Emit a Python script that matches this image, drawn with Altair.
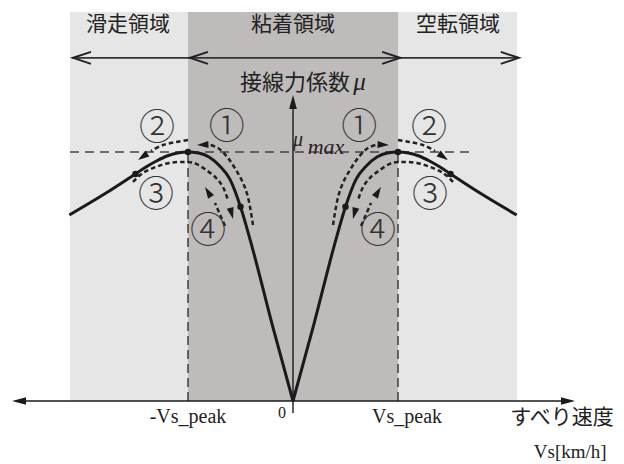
import math
import altair as alt
import pandas as pd

# Slip velocity normalised by Vs_peak, adhesion coefficient normalised by mu_max.
# Friction curve, right branch (the left branch is its mirror image).
curve_vs = [0.0, 0.2, 0.4, 0.5, 0.6, 0.7, 0.8, 0.9, 1.0, 1.1, 1.2, 1.3, 1.4, 1.5, 1.8, 2.13]
curve_mu = [0.0, 0.31, 0.635, 0.78, 0.89, 0.945, 0.98, 0.996, 1.0, 0.996, 0.984, 0.964, 0.94, 0.912, 0.83, 0.747]

# marked operating points on the curve
dot_vs = [0.5, 1.0, 1.5]
dot_mu = [0.78, 1.0, 0.912]

# transition paths (right side); each ends where its arrowhead begins
p1_vs = [0.381, 0.429, 0.476, 0.543, 0.619, 0.714, 0.80]
p1_mu = [0.707, 0.819, 0.876, 0.928, 0.976, 1.016, 1.030]
p2_vs = [1.0, 1.114, 1.238, 1.352]
p2_mu = [1.048, 1.040, 1.028, 1.004]
p3_vs = [1.524, 1.429, 1.305, 1.181, 1.048, 0.943, 0.829, 0.733, 0.667, 0.619]
p3_mu = [0.880, 0.916, 0.940, 0.956, 0.960, 0.956, 0.928, 0.896, 0.859, 0.807]
p4_vs = [0.648, 0.743]
p4_mu = [0.703, 0.795]
# arrow tips of the four paths
tip_vs = [0.914, 1.476, 0.571, 0.838]
tip_mu = [1.028, 0.968, 0.731, 0.859]

# circled step numbers
step_text = ["①", "②", "③", "④"]
step_vs = [0.63, 1.295, 1.305, 0.81]
step_mu = [1.096, 1.092, 0.823, 0.679]

region_text = ["滑走領域", "粘着領域", "空転領域"]
region_vs = [-1.571, 0.0, 1.571]

W, H = 624, 464
X_MIN, X_MAX = -2.7905, 3.1524
Y_MIN, Y_MAX = -0.2530, 1.6104
PX_X = W / (X_MAX - X_MIN)
PX_Y = H / (Y_MAX - Y_MIN)

BAND_TOP = 1.562
ZONE_L, ZONE_R = -2.124, 2.133
ARROW_ROW = 1.378

INK = "#1a1a1a"
TXT = "#222222"
CJK = "Noto Sans CJK JP"
SERIF = "Liberation Serif"

xs = alt.Scale(domain=[X_MIN, X_MAX], nice=False, zero=False)
ys = alt.Scale(domain=[Y_MIN, Y_MAX], nice=False, zero=False)


def heading(x0, y0, x1, y1):
    """Clockwise screen angle (deg from up) of the segment (x0,y0)->(x1,y1)."""
    dx = (x1 - x0) * PX_X
    dy = (y1 - y0) * PX_Y
    return math.degrees(math.atan2(dx, dy)) % 360


def xy(ch, **kw):
    return ch.encode(
        x=alt.X("vs:Q", scale=xs, axis=None),
        y=alt.Y("mu:Q", scale=ys, axis=None),
        **kw,
    )


def rect_layer(df, color):
    return alt.Chart(df).mark_rect(color=color).encode(
        x=alt.X("x0:Q", scale=xs, axis=None), x2="x1:Q",
        y=alt.Y("y0:Q", scale=ys, axis=None), y2="y1:Q",
    )


def rule_layer(df, **kw):
    return alt.Chart(df).mark_rule(**kw).encode(
        x=alt.X("x0:Q", scale=xs, axis=None), x2="x1:Q",
        y=alt.Y("y0:Q", scale=ys, axis=None), y2="y1:Q",
    )


def seg(x0, x1, y0, y1):
    return pd.DataFrame({"x0": x0, "x1": x1, "y0": y0, "y1": y1})


# ---- background zones
zones = (rect_layer(seg([ZONE_L], [ZONE_R], [0.0], [BAND_TOP]), "#e6e6e6")
         + rect_layer(seg([-1.0], [1.0], [0.0], [BAND_TOP]), "#bebbba"))

# ---- zone arrows along the top
top_line = rule_layer(seg([ZONE_L + 0.02], [ZONE_R], [ARROW_ROW], [ARROW_ROW]),
                      color="#333333", strokeWidth=1.6)
CHEV_L = "M3,-1L0,0L3,1"
CHEV_R = "M-3,-1L0,0L-3,1"
chev_left = xy(alt.Chart(pd.DataFrame({"vs": [-2.095, -0.981], "mu": [ARROW_ROW] * 2}))
               .mark_point(shape=CHEV_L, filled=False, stroke=TXT, strokeWidth=2, size=144, opacity=1))
chev_right = xy(alt.Chart(pd.DataFrame({"vs": [2.15, 1.02], "mu": [ARROW_ROW] * 2}))
                .mark_point(shape=CHEV_R, filled=False, stroke=TXT, strokeWidth=2, size=144, opacity=1))

# ---- reference lines for mu_max and +-Vs_peak
mu_line = rule_layer(seg([ZONE_L], [1.705], [1.0], [1.0]),
                     color="#444444", strokeWidth=1.4, strokeDash=[9, 6])
peak_lines = rule_layer(seg([-1.0, 1.0], [-1.0, 1.0], [0.0, 0.0], [1.0, 1.0]),
                        color="#333333", strokeWidth=1.4, strokeDash=[9, 5])

# ---- axes with arrowheads
x_axis = rule_layer(seg([-2.60], [2.60], [0.0], [0.0]), color=INK, strokeWidth=1.5)
y_axis = rule_layer(seg([0.0], [0.0], [-0.048], [1.18]), color=INK, strokeWidth=1.4)
AXIS_HEAD = "M0,0L-0.55,2L0.55,2Z"
axis_tips = pd.DataFrame({"vs": [-2.676, 2.686, 0.0], "mu": [0.0, 0.0, 1.229], "angle": [270, 90, 0]})
axis_heads = xy(alt.Chart(axis_tips).mark_point(shape=AXIS_HEAD, filled=True, fill=INK,
                                                 strokeWidth=0, size=196, opacity=1),
                angle=alt.Angle("angle:Q", scale=None))

# ---- friction curve, both branches
curve = pd.DataFrame({
    "vs": curve_vs + [-v for v in curve_vs],
    "mu": curve_mu + curve_mu,
    "side": ["R"] * len(curve_vs) + ["L"] * len(curve_vs),
})
curve_line = xy(alt.Chart(curve).mark_line(color=INK, strokeWidth=3, interpolate="monotone"),
                detail="side:N", order="vs:Q")
dots = pd.DataFrame({"vs": dot_vs + [-v for v in dot_vs], "mu": dot_mu + dot_mu})
dot_layer = xy(alt.Chart(dots).mark_circle(color=INK, size=42, opacity=1))

# ---- dashed transition paths, both sides
paths = [(p1_vs, p1_mu), (p2_vs, p2_mu), (p3_vs, p3_mu), (p4_vs, p4_mu)]
rows = []
heads = []
for k, (pv, pm) in enumerate(paths):
    for sgn, side in ((1, "R"), (-1, "L")):
        for i, (v, m) in enumerate(zip(pv, pm)):
            rows.append({"path": f"{side}{k}", "i": i, "vs": sgn * v, "mu": m})
        tv, tm = sgn * tip_vs[k], tip_mu[k]
        heads.append({"vs": tv, "mu": tm,
                      "angle": heading(sgn * pv[-1], pm[-1], tv, tm)})
path_df = pd.DataFrame(rows)
head_df = pd.DataFrame(heads)
path_layer = xy(alt.Chart(path_df).mark_line(color="#222222", strokeWidth=2.5,
                                             strokeDash=[4.5, 3], interpolate="catmull-rom"),
                detail="path:N", order="i:Q")
DASH_HEAD = "M0,0L-0.62,2L0.62,2Z"
head_layer = xy(alt.Chart(head_df).mark_point(shape=DASH_HEAD, filled=True, fill=INK,
                                               strokeWidth=0, size=130, opacity=1),
                angle=alt.Angle("angle:Q", scale=None))

# ---- texts
steps = pd.DataFrame({"vs": step_vs + [-v for v in step_vs], "mu": step_mu + step_mu,
                      "t": step_text + step_text})
step_layer = xy(alt.Chart(steps).mark_text(font=CJK, fontSize=36, fontWeight=300, color="#333333",
                                           baseline="middle", align="center"),
                text="t:N")

regions = pd.DataFrame({"vs": region_vs, "mu": [1.51] * 3, "t": region_text})
region_layer = xy(alt.Chart(regions).mark_text(font=CJK, fontSize=21, color=TXT,
                                               baseline="middle", align="center"),
                  text="t:N")


def label(t, vs, mu, **kw):
    df = pd.DataFrame({"vs": [vs], "mu": [mu], "t": [t]})
    return xy(alt.Chart(df).mark_text(baseline="middle", color=TXT, **kw), text="t:N")


texts = [
    label("接線力係数", 0.543, 1.277, font=CJK, fontSize=22, align="right"),
    label("μ", 0.575, 1.28, font=SERIF, fontSize=25, fontStyle="italic", align="left"),
    label("μ", 0.0, 1.05, font=SERIF, fontSize=20, fontStyle="italic", align="left"),
    label("max", 0.14, 1.022, font=SERIF, fontSize=22, fontStyle="italic", align="left"),
    label("-Vs_peak", -1.0, -0.066, font=SERIF, fontSize=20, align="center"),
    label("Vs_peak", 1.086, -0.066, font=SERIF, fontSize=20, align="center"),
    label("0", -0.105, -0.050, font=SERIF, fontSize=16, align="center"),
    label("すべり速度", 2.562, -0.070, font=CJK, fontSize=21, align="center"),
    label("Vs[km/h]", 2.64, -0.205, font=SERIF, fontSize=19, align="center"),
]

chart = alt.layer(
    zones, top_line, chev_left, chev_right, mu_line, peak_lines,
    x_axis, y_axis, axis_heads, path_layer, head_layer, curve_line, dot_layer,
    step_layer, region_layer, *texts,
).properties(
    width=W, height=H, padding=0, autosize=alt.AutoSizeParams(type="none"),
    background="white",
).configure_view(stroke=None)

chart.save("out.html", embed_options={"renderer": "svg", "actions": False})
